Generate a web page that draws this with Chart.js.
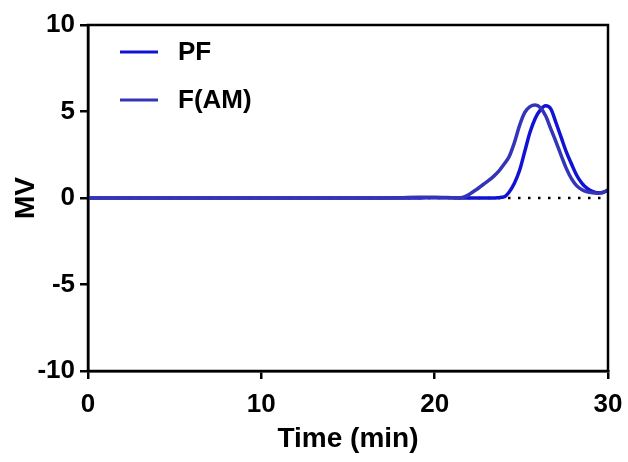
<!DOCTYPE html>
<html>
<head>
<meta charset="utf-8">
<script src="https://cdn.jsdelivr.net/npm/chart.js@4"></script>
<style>
  html, body { margin: 0; padding: 0; background: #fff; }
  #wrap { width: 628px; height: 462px; }
</style>
</head>
<body>
<div id="wrap"><canvas id="chromChart" width="628" height="462"></canvas></div>
<script>
// elution time (min) shared by both traces
const timeMin = [0, 2, 4, 6, 8, 10, 12, 14, 16, 18, 19, 20, 21, 21.3,
  21.6, 21.9, 22.2, 22.5, 22.8, 23.1, 23.4, 23.7, 24.0, 24.3, 24.6, 24.9, 25.2, 25.5, 25.8,
  26.1, 26.4, 26.7, 27.0, 27.3, 27.6, 27.9, 28.2, 28.5, 28.8, 29.1, 29.4, 29.7, 30.0];
const pfMv = [0, 0, 0, 0, 0, 0, 0, 0, 0, 0, 0, 0.02, 0.01, 0,
  0, 0, 0, 0, 0, 0, 0, 0.02, 0.06, 0.35, 0.85, 1.6, 2.7, 3.8, 4.6,
  5.1, 5.33, 5.15, 4.35, 3.5, 2.65, 1.95, 1.3, 0.85, 0.55, 0.38, 0.3, 0.32, 0.45];
const famMv = [0, 0, 0, 0, 0, 0, 0, 0, 0, 0.02, 0.05, 0.05, 0.02, 0.01,
  0.03, 0.15, 0.35, 0.55, 0.78, 1.0, 1.25, 1.55, 1.95, 2.4, 3.2, 4.2, 4.95, 5.28, 5.37,
  5.22, 4.75, 4.0, 3.25, 2.45, 1.7, 1.1, 0.7, 0.48, 0.36, 0.3, 0.28, 0.32, 0.45];
const baseMv = [0, 0];
const baseTime = [0, 30];
const xTicks = [0, 10, 20, 30];
const yTicks = [-10, -5, 0, 5, 10];

const FONT = '"Liberation Sans", Arial, sans-serif';

const toPoints = (xs, ys) => xs.map((x, i) => ({ x: x, y: ys[i] }));

// box around the plot area
const frame = {
  id: 'frame',
  afterDatasetsDraw(chart) {
    const { ctx, chartArea: a } = chart;
    ctx.save();
    ctx.strokeStyle = '#000';
    ctx.lineWidth = 2.5;
    ctx.strokeRect(a.left, a.top, a.right - a.left, a.bottom - a.top);
    ctx.restore();
  }
};

// legend drawn inside the plot, top-left
const insideLegend = {
  id: 'insideLegend',
  afterDraw(chart) {
    const { ctx, chartArea: a } = chart;
    ctx.save();
    ctx.font = 'bold 26px ' + FONT;
    ctx.textBaseline = 'middle';
    let row = 0;
    chart.data.datasets.forEach(ds => {
      if (!ds.label) return;
      const y = a.top + 27 + row * 48;
      ctx.strokeStyle = ds.borderColor;
      ctx.lineWidth = 3;
      ctx.beginPath();
      ctx.moveTo(a.left + 32, y);
      ctx.lineTo(a.left + 70, y);
      ctx.stroke();
      ctx.fillStyle = '#000';
      ctx.fillText(ds.label, a.left + 90, y + 1);
      row++;
    });
    ctx.restore();
  }
};

new Chart(document.getElementById('chromChart'), {
  type: 'line',
  data: {
    datasets: [
      {
        label: 'PF',
        data: toPoints(timeMin, pfMv),
        borderColor: 'rgb(18, 18, 212)',
        borderWidth: 3.5,
        pointRadius: 0,
        cubicInterpolationMode: 'monotone',
        order: 2
      },
      {
        label: 'F(AM)',
        data: toPoints(timeMin, famMv),
        borderColor: 'rgb(52, 52, 184)',
        borderWidth: 3.5,
        pointRadius: 0,
        cubicInterpolationMode: 'monotone',
        order: 1
      },
      {
        label: '',
        data: toPoints(baseTime, baseMv),
        borderColor: '#000',
        borderWidth: 2.5,
        borderDash: [2.5, 7.5],
        pointRadius: 0,
        order: 3
      }
    ]
  },
  options: {
    responsive: false,
    animation: false,
    layout: { padding: { top: 25, right: 20, left: 0, bottom: 0 } },
    plugins: {
      legend: { display: false },
      tooltip: { enabled: false }
    },
    scales: {
      x: {
        type: 'linear',
        min: 0,
        max: 30,
        afterFit(scale) {
          scale.height = 91;
          scale.paddingLeft = 0;
          scale.paddingRight = 0;
        },
        afterBuildTicks(scale) { scale.ticks = xTicks.map(v => ({ value: v })); },
        border: { color: '#000', width: 2.5 },
        grid: { drawOnChartArea: false, drawTicks: true, tickLength: 8, color: '#000', lineWidth: 2.5 },
        ticks: { color: '#000', padding: 10, maxRotation: 0, font: { family: FONT, size: 26, weight: 'bold' } },
        title: { display: true, text: 'Time (min)', color: '#000', padding: { top: 0, bottom: 6 }, font: { family: FONT, size: 28, weight: 'bold' } }
      },
      y: {
        min: -10,
        max: 10,
        afterFit(scale) { scale.width = 88; },
        afterBuildTicks(scale) { scale.ticks = yTicks.map(v => ({ value: v })); },
        border: { color: '#000', width: 2.5 },
        grid: { drawOnChartArea: false, drawTicks: true, tickLength: 8, color: '#000', lineWidth: 2.5 },
        ticks: { color: '#000', padding: 5, font: { family: FONT, size: 26, weight: 'bold' } },
        title: { display: true, text: 'MV', color: '#000', padding: { top: 9, bottom: 0 }, font: { family: FONT, size: 28, weight: 'bold' } }
      }
    }
  },
  plugins: [frame, insideLegend]
});
</script>
</body>
</html>
